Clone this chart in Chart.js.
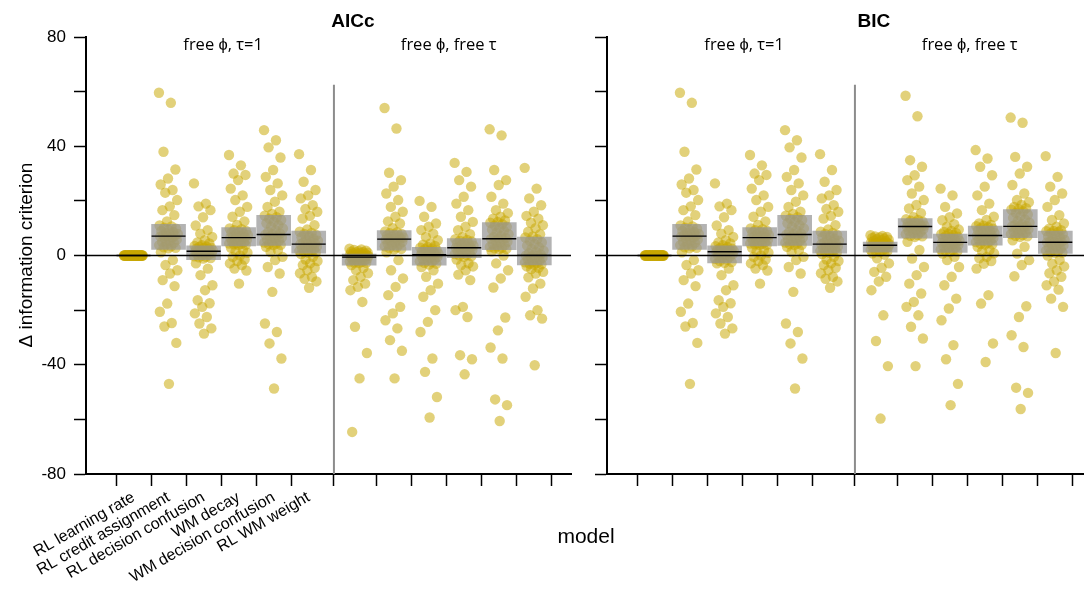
<!DOCTYPE html>
<html>
<head>
<meta charset="utf-8">
<script src="https://cdn.jsdelivr.net/npm/chart.js@4.4.1/dist/chart.umd.min.js"></script>
<style>
html, body { margin: 0; padding: 0; background: #fff; overflow: hidden; }
#wrap { position: relative; width: 1084px; height: 590px; overflow: hidden; }
canvas { position: absolute; top: 0; }
#left { left: 0; }
#right { left: 520px; }
</style>
</head>
<body>
<div id="wrap">
  <canvas id="left" width="590" height="590"></canvas>
  <canvas id="right" width="580" height="590"></canvas>
</div>
<script>
// models on the x axis (same order in every group)
const models = ['RL learning rate', 'RL credit assignment', 'RL decision confusion',
                'WM decay', 'WM decision confusion', 'RL WM weight'];
const conditions = ['free \u03d5, \u03c4=1', 'free \u03d5, free \u03c4'];
const panelTitles = ['AICc', 'BIC'];
const yTickLabels = [80, 40, 0, -40, -80];

// delta information criterion per subject
// AICc, free phi, tau=1
const aiccFixedTau = [
  [0,0,0,0,0,0,0,0,0,0,0,0,0,0,0,0,0,0,0,0,0,0,0,0,0,0,0,0,0,0,0,0,0,0,0,0,0,0,0,0,0,0,0,0,0,0,0,0,0,0,0,0],
  [59.6,55.9,38,31.5,28.2,26,24,23,20.3,18,16.6,14.8,12.5,
   11,10.6,10.2,9.8,9.4,9,8.6,8.2,7.9,7.6,7.4,7.3,7.2,7,6.6,6.2,5.8,5.4,5,4.6,4.2,3.8,3.4,3,2.8,2.6,
   1.2,-1.7,-3.5,-5.4,-6.6,-9,-11.2,-17.6,-20.6,-24.7,-26,-32,-47],
  [26.4,19,18,16.6,14,11,9.3,8,6.8,5.6,4.8,4.4,3.8,
   3.5,3.3,3.1,2.9,2.7,2.5,2.3,2.1,1.9,1.8,1.7,1.7,1.6,1.5,1.3,1.1,0.9,0.7,0.5,0.3,0,-0.3,-0.5,-0.7,-0.9,-1.1,
   -2.9,-4.8,-7.2,-10.9,-12.7,-16.4,-17.5,-18.8,-21.2,-22.5,-24.9,-26.7,-28.6],
  [36.8,33,30,29.5,27.6,24.5,22,20.3,17.8,16,14.2,12.5,11.2,
   9.9,9.6,9.3,9,8.7,8.4,8.1,7.8,7.5,7.2,6.9,6.7,6.6,6.5,6.3,6,5.7,5.4,5.1,4.8,4.5,4.4,4.3,4.1,3.9,3.8,
   2.8,2,1.5,1,0,-0.5,-1.5,-2,-2.9,-3.5,-4.8,-5.5,-10.3],
  [45.9,42.2,39.6,35.9,31.3,28.8,26.4,24,22,19.7,17.8,16,15.2,
   14.6,14,13.5,13,12.4,11.8,11.1,10.5,9.9,9.2,8.6,8,7.8,7.6,7.3,7,6.6,6.2,5.8,5.4,5,4.7,4.4,4.1,3.9,3.8,
   3.2,2,1.3,-0.5,-1.7,-4.2,-6.6,-13.3,-24.9,-28,-32.2,-37.7,-48.7],
  [37.1,31.3,27,24,22,20.9,18.4,17,16,14.5,13.5,11.1,9.5,
   8.7,8.3,7.9,7.5,7.1,6.7,6.2,5.8,5.4,5,4.7,4.4,4.2,4.1,3.8,3.5,3.2,2.9,2.6,2.3,2,1.7,1.5,1.3,1.1,1,
   0.5,-0.5,-1.5,-2,-2.9,-3.5,-4.5,-5.4,-6.5,-7.8,-8.5,-9.5,-11.8]
];
// AICc, free phi, free tau
const aiccFreeTau = [
  [2.5,2.2,2,1.8,1.6,1.4,1.2,1.1,1,0.9,0.8,0.7,0.6,
   0.5,0.4,0.3,0.2,0.1,0,0,-0.1,-0.2,-0.3,-0.4,-0.5,-0.6,-0.6,-0.8,-1,-1.2,-1.4,-1.6,-1.8,-2,-2.2,-2.4,-2.6,-2.7,-2.8,
   -3.5,-4.5,-5.4,-6.5,-7.8,-9,-10.3,-11.5,-12.7,-17,-26.1,-35.7,-45,-64.6],
  [54,46.5,30.3,27.6,25.2,22.7,20.3,17.8,16,14.2,12.5,11.7,10,
   8.8,8.5,8.2,7.9,7.6,7.3,7,6.8,6.6,6.4,6.3,6.2,6.1,5.9,5.6,5.3,5,4.7,4.4,4.1,3.8,3.4,3,2.7,2.4,2.2,
   1.2,-1.7,-5.4,-8.4,-11.5,-14.5,-18.8,-21.2,-23.7,-26.7,-31,-34.9,-45],
  [20,17.8,14.2,11.7,10.5,9.3,8,6.8,5.6,4.4,4,3.5,3.1,
   2.9,2.6,2.3,2,1.7,1.4,1.1,0.9,0.7,0.6,0.5,0.5,0.4,0.2,0,-0.3,-0.6,-0.9,-1.2,-1.5,-1.8,-2.1,-2.4,-2.7,-3,-3.3,
   -4.2,-5.4,-7.8,-10.3,-12.7,-15.1,-20,-24.3,-28,-37.7,-42.6,-51.8,-59.3],
  [33.9,30.6,27.6,25.2,21.5,19,16.6,14.2,12.3,10.5,9.3,7.8,6.8,
   6,5.7,5.4,5.1,4.8,4.5,4.2,3.9,3.6,3.3,3.1,3,2.9,2.8,2.6,2.3,2,1.7,1.4,1.1,0.8,0.5,0.2,0,-0.3,-0.5,
   -1.5,-2.9,-3.5,-4,-5.4,-7,-9,-18.8,-20,-22.5,-36.5,-38,-43.5],
  [46.2,44,31.3,27.6,25.8,21.5,19,16.6,15.5,14.2,13.5,12.8,12.3,
   12,11.5,11,10.5,10,9.5,9,8.4,7.8,7.2,6.8,6.4,6.2,6.1,5.8,5.4,5,4.6,4.2,3.8,3.4,3.1,2.8,2.6,2.4,2.3,
   1.5,0,-2.9,-5.4,-8.4,-11.7,-22.7,-27.4,-33.7,-37.7,-52.7,-54.8,-60.6],
  [32.1,24.5,20.9,18.4,16,14.5,13.5,12,11.1,10,8.7,7.8,7,
   6.6,6,5.4,4.8,4.2,3.6,3,2.4,1.8,1.3,0.8,0.4,0.1,0,-0.2,-0.5,-0.8,-1.1,-1.4,-1.8,-2.2,-2.5,-2.8,-3,-3.2,-3.3,
   -4,-4.5,-5,-6,-6.6,-8,-10.3,-12.1,-15.1,-20,-21.9,-23.1,-40.2]
];
// BIC, free phi, tau=1
const bicFixedTau = [
  [0,0,0,0,0,0,0,0,0,0,0,0,0,0,0,0,0,0,0,0,0,0,0,0,0,0,0,0,0,0,0,0,0,0,0,0,0,0,0,0,0,0,0,0,0,0,0,0,0,0,0,0],
  [59.6,55.9,38,31.5,28.2,26,24,23,20.3,18,16.6,14.8,12.5,
   11,10.6,10.2,9.8,9.4,9,8.6,8.2,7.9,7.6,7.4,7.3,7.2,7,6.6,6.2,5.8,5.4,5,4.6,4.2,3.8,3.4,3,2.8,2.6,
   1.2,-1.7,-3.5,-5.4,-6.6,-9,-11.2,-17.6,-20.6,-24.7,-26,-32,-47],
  [26.4,19,18,16.6,14,11,9.3,8,6.8,5.6,4.8,4.4,3.8,
   3.4,3.1,2.8,2.5,2.3,2.1,1.9,1.8,1.7,1.6,1.6,1.6,1.5,1.3,1.1,0.8,0.5,0.2,0,-0.4,-0.8,-1.2,-1.6,-2,-2.4,-2.7,
   -2.9,-4.8,-7.2,-10.9,-12.7,-16.4,-17.5,-18.8,-21.2,-22.5,-24.9,-26.7,-28.6],
  [36.8,33,30,29.5,27.6,24.5,22,20.3,17.8,16,14.2,12.5,11.2,
   9.9,9.6,9.3,9,8.7,8.4,8.1,7.8,7.5,7.2,6.9,6.7,6.6,6.5,6.3,6,5.7,5.4,5.1,4.8,4.5,4.4,4.3,4.1,3.9,3.8,
   2.8,2,1.5,1,0,-0.5,-1.5,-2,-2.9,-3.5,-4.8,-5.5,-10.3],
  [45.9,42.2,39.6,35.9,31.3,28.8,26.4,24,22,19.7,17.8,16,15.2,
   14.6,14,13.5,13,12.4,11.8,11.1,10.5,9.9,9.2,8.6,8,7.8,7.6,7.3,7,6.6,6.2,5.8,5.4,5,4.7,4.4,4.1,3.9,3.8,
   3.2,2,1.3,-0.5,-1.7,-4.2,-6.6,-13.3,-24.9,-28,-32.2,-37.7,-48.7],
  [37.1,31.3,27,24,22,20.9,18.4,17,16,14.5,13.5,11.1,9.5,
   8.7,8.3,7.9,7.5,7.1,6.7,6.2,5.8,5.4,5,4.7,4.4,4.2,4.1,3.8,3.5,3.2,2.9,2.6,2.3,2,1.7,1.5,1.3,1.1,1,
   0.5,-0.5,-1.5,-2,-2.9,-3.5,-4.5,-5.4,-6.5,-7.8,-8.5,-9.5,-11.8]
];
// BIC, free phi, free tau
const bicFreeTau = [
  [7.4,7.2,7,6.8,6.6,6.4,6.2,6,5.8,5.6,5.4,5.2,5,
   4.9,4.8,4.7,4.6,4.5,4.4,4.3,4.2,4.1,4,3.9,3.8,3.8,3.7,3.5,3.3,3.1,2.9,2.7,2.5,2.3,2.1,1.9,1.7,1.5,1.3,
   0.8,0.3,-1,-2.9,-4.5,-6,-7.8,-9.5,-12.7,-21.9,-31.3,-40.5,-59.7],
  [58.5,51,34.9,32.5,29.4,27.6,25.2,22.7,20.3,18.5,17.2,15.5,14,
   13.3,13,12.7,12.4,12.1,11.8,11.5,11.2,11,10.9,10.8,10.7,10.7,10.5,10.2,9.9,9.6,9.3,9,8.6,8.2,7.8,7.5,7.2,7,6.8,
   5,2,-1.1,-4.2,-7.2,-10.3,-13.9,-17,-18.8,-21.9,-26.1,-30.4,-40.5],
  [24.5,22,17.8,15.4,14,12.9,11.5,10.5,9.5,9,8.6,8.3,8,
   7.8,7.5,7.2,6.9,6.6,6.3,6,5.7,5.4,5.2,5,4.9,4.9,4.7,4.4,4.1,3.8,3.5,3.2,2.9,2.6,2.3,2,1.7,1.5,1.3,
   0.7,-0.5,-1.7,-4.2,-7.8,-10.9,-15.8,-19.4,-23.7,-32.8,-38,-47,-54.8],
  [38.6,35.5,32.5,29.4,25.2,22,19,16.6,14.2,13,11.7,11.2,10.9,
   10.7,10.4,10.1,9.8,9.5,9.2,8.9,8.6,8.3,8,7.7,7.5,7.4,7.3,7,6.7,6.4,6.1,5.8,5.5,5.2,4.9,4.6,4.3,4.1,4,
   3.2,2,1.5,0.8,-0.5,-1,-2,-3,-4.8,-14.5,-17.6,-32.2,-39],
  [50.5,48.6,36.1,32.5,30,25.8,22.7,20.3,19.5,18.5,17.8,17.3,17,
   16.8,16.2,15.6,15,14.4,13.8,13.2,12.6,12,11.5,11.1,10.8,10.7,10.6,10.3,10,9.6,9.2,8.8,8.4,8.1,7.8,7.5,7.2,7,6.8,
   5.6,3.2,0.7,-1.7,-3.5,-7.6,-18.6,-22.5,-29.2,-33.5,-48.4,-50.3,-56.2],
  [36.4,28.8,25.2,22.7,20.3,17.8,14.8,13,11.7,10.5,9.8,9.3,9,
   8.9,8.6,8.2,7.8,7.4,7,6.6,6.2,5.8,5.4,5.1,5,4.9,4.8,4.5,4.1,3.7,3.3,2.9,2.5,2.1,1.8,1.5,1.3,1.1,1,
   0,-1.7,-3,-4,-5.4,-6.5,-7.8,-9.5,-10.9,-12.5,-15.8,-18.8,-35.7]
];

const groupGap = 1.44;      // extra space between the two condition groups
const xMin = 0.22, xMax = 12.91;
const dividerPos = 6.72, dividerTop = 62.5;
const jitter = 0.55;

const pointColor = 'rgba(200,167,0,0.52)';
const boxColor = 'rgba(150,150,150,0.72)';

function catPos(g, m) { return 1 + m + g * (5 + groupGap); }

function quantile(s, q) {
  const p = (s.length - 1) * q, lo = Math.floor(p), hi = Math.ceil(p);
  return s[lo] + (s[hi] - s[lo]) * (p - lo);
}

function buildData(groups) {
  const pts = [], boxes = [], meds = [];
  groups.forEach((grp, g) => grp.forEach((vals, m) => {
    const x0 = catPos(g, m);
    vals.forEach((v, i) => pts.push({ x: x0 + (((i * 0.618034) % 1) - 0.5) * jitter, y: v }));
    const s = [...vals].sort((a, b) => a - b);
    boxes.push({ x: x0, y: [quantile(s, 0.25), quantile(s, 0.75)] });
    meds.push({ x: x0, y: quantile(s, 0.5) });
  }));
  return { pts, boxes, meds };
}

const tickPositions = [];
for (let g = 0; g < 2; g++) for (let m = 0; m < 6; m++) tickPositions.push(catPos(g, m));

function makePanel(id, groups, cfg) {
  const d = buildData(groups);
  const rot = cfg.xLabels ? 30 : 0;
  const panelText = {
    id: 'panelText',
    beforeDatasetsDraw(chart) {
      const { ctx, scales: { x, y }, chartArea } = chart;
      ctx.save();
      ctx.strokeStyle = '#8c8c8c';
      ctx.lineWidth = 2;
      ctx.beginPath();
      ctx.moveTo(x.getPixelForValue(dividerPos), y.getPixelForValue(dividerTop));
      ctx.lineTo(x.getPixelForValue(dividerPos), chartArea.bottom);
      ctx.stroke();
      ctx.restore();
    },
    afterDatasetsDraw(chart) {
      const { ctx, scales: { y }, chartArea } = chart;
      ctx.save();
      ctx.strokeStyle = '#000';
      ctx.lineWidth = 1.3;
      ctx.beginPath();
      ctx.moveTo(chartArea.left, y.getPixelForValue(0));
      ctx.lineTo(chartArea.right, y.getPixelForValue(0));
      ctx.stroke();
      ctx.restore();
    },
    afterDraw(chart) {
      const { ctx, scales: { x } } = chart;
      ctx.save();
      ctx.fillStyle = '#000';
      ctx.textAlign = 'center';
      ctx.textBaseline = 'middle';
      ctx.font = 'bold 19px "Liberation Sans", Arial, sans-serif';
      ctx.fillText(cfg.title, x.getPixelForValue(dividerPos) + 19, 22);
      ctx.font = '16.5px "Open Sans", sans-serif';
      conditions.forEach((c, g) => ctx.fillText(c, x.getPixelForValue(catPos(g, 2.5)) + 2, 45));
      if (cfg.yTitle) {
        ctx.font = '19px "Liberation Sans", Arial, sans-serif';
        ctx.translate(27, 255);
        ctx.rotate(-Math.PI / 2);
        ctx.fillText(cfg.yTitle, 0, 0);
        ctx.setTransform(1, 0, 0, 1, 0, 0);
      }
      if (cfg.xTitle) {
        ctx.font = '21px "Liberation Sans", Arial, sans-serif';
        ctx.fillText(cfg.xTitle, cfg.xTitleAt, 537);
      }
      ctx.restore();
    }
  };

  return new Chart(document.getElementById(id), {
    type: 'scatter',
    data: {
      datasets: [
        { type: 'scatter', data: d.pts, order: 3, pointRadius: 5.2, pointBorderWidth: 0,
          backgroundColor: pointColor, borderColor: 'transparent' },
        { type: 'bar', data: d.boxes, order: 2, barThickness: 34, grouped: false,
          backgroundColor: boxColor, borderWidth: 0 },
        { type: 'scatter', data: d.meds, order: 1, pointStyle: 'line', pointRadius: 17,
          borderColor: '#000', pointBorderWidth: 1.4, backgroundColor: '#000' }
      ]
    },
    options: {
      responsive: false,
      animation: false,
      layout: { autoPadding: false, padding: { left: 0, right: cfg.padRight, top: 37, bottom: 0 } },
      plugins: { legend: { display: false }, tooltip: { enabled: false } },
      scales: {
        x: {
          type: 'linear', min: xMin, max: xMax,
          afterBuildTicks: s => { s.ticks = tickPositions.map(v => ({ value: v })); },
          afterFit: s => { s.height = 116; },
          ticks: {
            autoSkip: false, minRotation: rot, maxRotation: rot, padding: 2, color: '#000',
            font: { family: '"Liberation Sans", Arial, sans-serif', size: 16 },
            callback: (v, i) => (cfg.xLabels && i < 6 ? models[i] : '')
          },
          grid: { drawOnChartArea: false, drawTicks: true, tickLength: 12, tickColor: '#000', tickWidth: 1.5 },
          border: { display: true, color: '#000', width: 2 }
        },
        y: {
          min: -80, max: 80,
          afterFit: s => { s.width = cfg.yWidth; },
          ticks: {
            stepSize: 20, padding: 8, color: '#000',
            font: { family: '"Liberation Sans", Arial, sans-serif', size: 17 },
            callback: v => (cfg.yLabels && yTickLabels.includes(v) ? String(v) : '')
          },
          grid: { drawOnChartArea: false, drawTicks: true, tickLength: 12, tickColor: '#000', tickWidth: 1.5 },
          border: { display: true, color: '#000', width: 2 }
        }
      }
    },
    plugins: [panelText]
  });
}

makePanel('left', [aiccFixedTau, aiccFreeTau], {
  title: panelTitles[0], xLabels: true, yLabels: true, yWidth: 86, padRight: 19,
  yTitle: '\u0394 information criterion'
});
makePanel('right', [bicFixedTau, bicFreeTau], {
  title: panelTitles[1], xLabels: false, yLabels: false, yWidth: 87, padRight: 8,
  xTitle: 'model', xTitleAt: 66
});
</script>
</body>
</html>
